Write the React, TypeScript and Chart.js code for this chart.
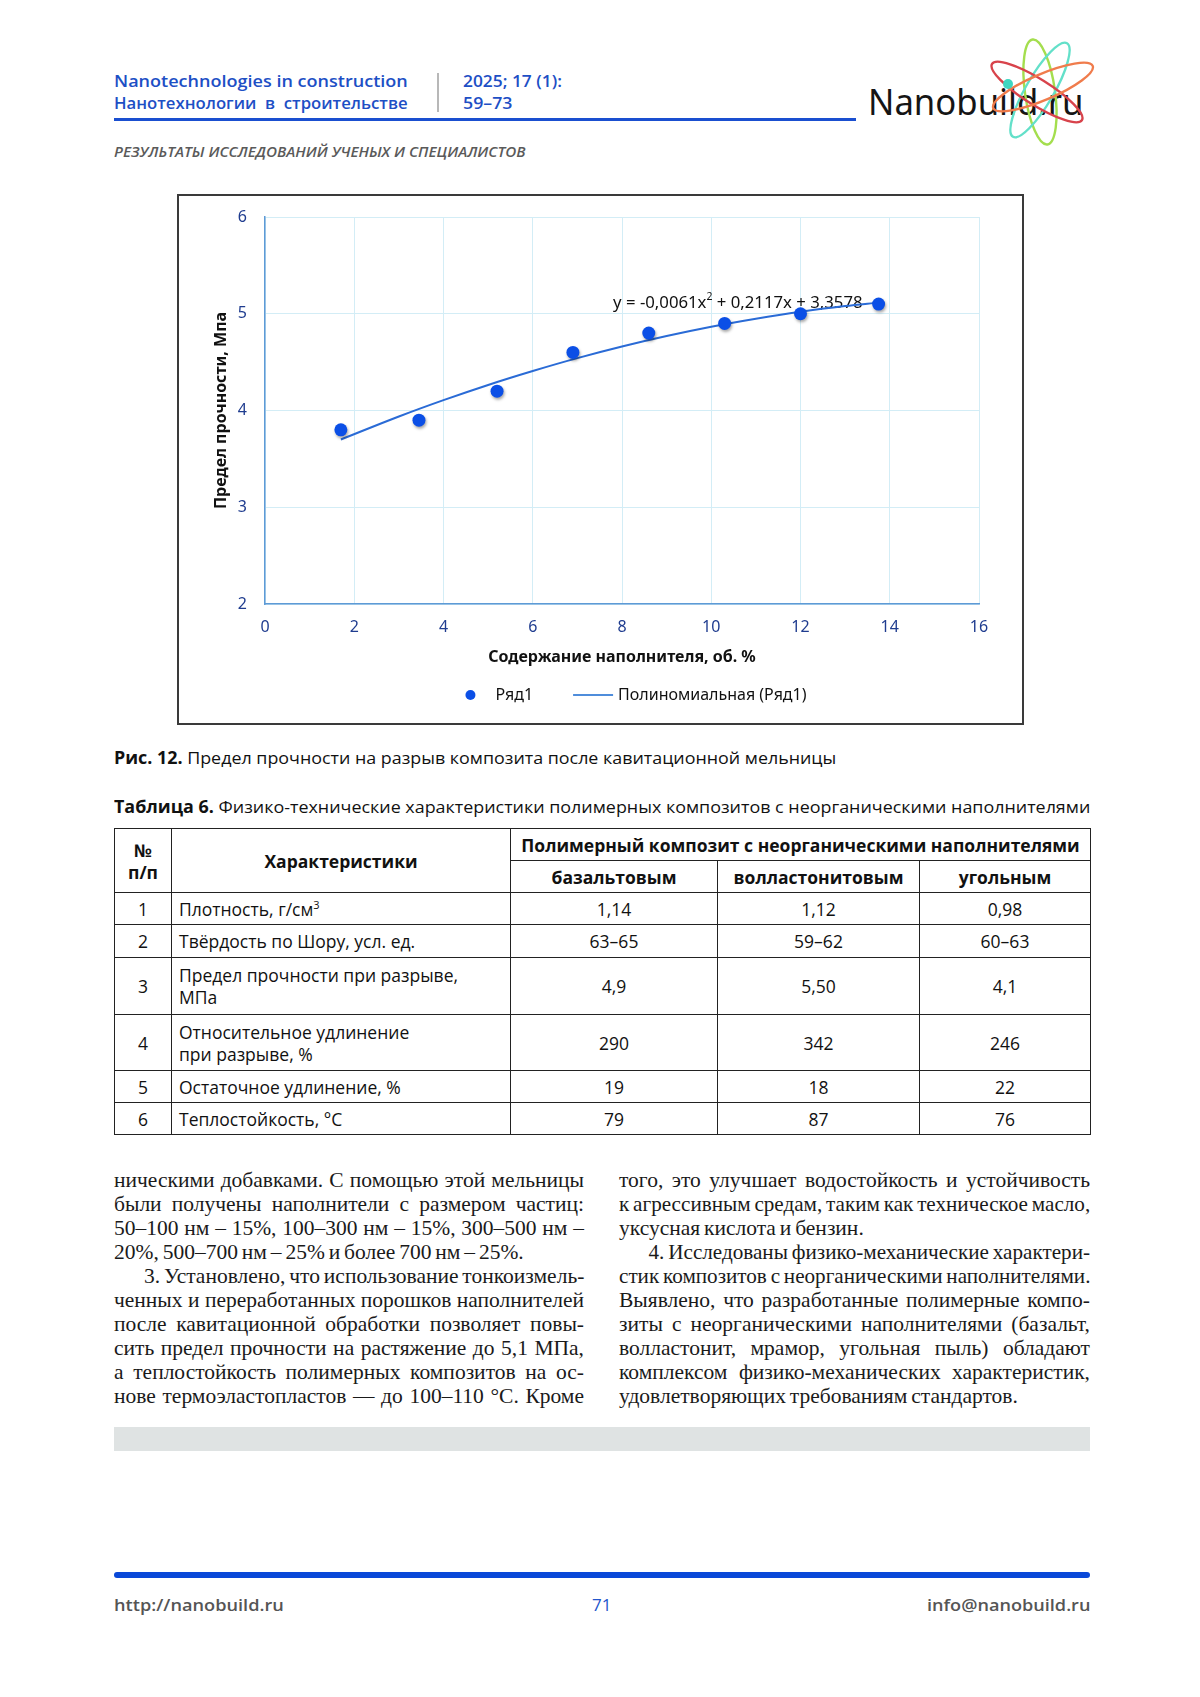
import React, { useEffect, useLayoutEffect, useRef } from "react";
import { Chart, registerables } from "chart.js";

Chart.register(...registerables);

// ---------- chart data ----------
const fillerContent = [1.7, 3.45, 5.2, 6.9, 8.6, 10.3, 12.0, 13.75];
const tensileStrength = [3.8, 3.9, 4.2, 4.6, 4.8, 4.9, 5.0, 5.1];
const trendX = [1.7, 3, 4, 5, 6, 7, 8, 9, 10, 11, 12, 13, 13.75];
const trendY = [3.7, 3.938, 4.107, 4.264, 4.408, 4.541, 4.661, 4.769, 4.865, 4.948, 5.02, 5.079, 5.115];
const xRange = [0, 16, 2];
const yRange = [2, 6, 1];
const seriesName = "Ряд1";
const trendName = "Полиномиальная (Ряд1)";
const xTitle = "Содержание наполнителя, об. %";
const yTitle = "Предел прочности, Мпа";
const equationParts = ["y = -0,0061x", "2", " + 0,2117x + 3,3578"];
const equationAnchor = [7.8, 13.39, 5.11];

// ---------- table data ----------
const tableNums = ["1", "2", "3", "4", "5", "6"];
const tableProps = [
  ["Плотность, г/см", "3"],
  ["Твёрдость по Шору, усл. ед."],
  ["Предел прочности при разрыве,", "МПа"],
  ["Относительное удлинение", "при разрыве, %"],
  ["Остаточное удлинение, %"],
  ["Теплостойкость, °С"],
];
const basaltVals = ["1,14", "63–65", "4,9", "290", "19", "79"];
const wollastVals = ["1,12", "59–62", "5,50", "342", "18", "87"];
const coalVals = ["0,98", "60–63", "4,1", "246", "22", "76"];

// ---------- body text ----------
const leftLines: [string, number][] = [
  ["ническими добавками. С помощью этой мельницы", 1],
  ["были получены наполнители с размером частиц:", 1],
  ["50–100 нм – 15%, 100–300 нм – 15%, 300–500 нм –", 1],
  ["20%, 500–700 нм – 25% и более 700 нм – 25%.", 0],
  ["3. Установлено, что использование тонкоизмель-", 2],
  ["ченных и переработанных порошков наполнителей", 1],
  ["после кавитационной обработки позволяет повы-", 1],
  ["сить предел прочности на растяжение до 5,1 МПа,", 1],
  ["а теплостойкость полимерных композитов на ос-", 1],
  ["нове термоэластопластов — до 100–110 °C. Кроме", 1],
];
const rightLines: [string, number][] = [
  ["того, это улучшает водостойкость и устойчивость", 1],
  ["к агрессивным средам, таким как техническое масло,", 1],
  ["уксусная кислота и бензин.", 0],
  ["4. Исследованы физико-механические характери-", 2],
  ["стик композитов с неорганическими наполнителями.", 1],
  ["Выявлено, что разработанные полимерные компо-", 1],
  ["зиты с неорганическими наполнителями (базальт,", 1],
  ["волластонит, мрамор, угольная пыль) обладают", 1],
  ["комплексом физико-механических характеристик,", 1],
  ["удовлетворяющих требованиям стандартов.", 0],
];

const SANS = "'Open Sans', 'Noto Sans', sans-serif";
const CHART_FONT = "'Noto Sans', 'Open Sans', sans-serif";
const SERIF = "'Liberation Serif', 'DejaVu Serif', serif";

function Fit({ w, children, style }: { w: number; children: React.ReactNode; style?: React.CSSProperties }) {
  const ref = useRef<HTMLSpanElement>(null);
  useLayoutEffect(() => {
    const el = ref.current;
    if (!el) return;
    el.style.transform = "none";
    const r = el.offsetWidth;
    if (r > 0) el.style.transform = `scaleX(${w / r})`;
  });
  return (
    <span
      ref={ref}
      style={{ display: "inline-block", whiteSpace: "nowrap", transformOrigin: "0 50%", ...style }}
    >
      {children}
    </span>
  );
}

function Line({ left, cy, w, h = 22, style, children }: any) {
  return (
    <div style={{ position: "absolute", left, top: cy - h / 2, height: h, lineHeight: `${h}px`, ...style }}>
      <Fit w={w}>{children}</Fit>
    </div>
  );
}

const shadowPlugin = {
  id: "pointShadow",
  beforeDatasetDraw(chart: any, args: any) {
    if (args.index === 0) {
      const c = chart.ctx;
      c.save();
      c.shadowColor = "rgba(0,0,0,0.35)";
      c.shadowBlur = 3;
      c.shadowOffsetX = 1;
      c.shadowOffsetY = 2;
    }
  },
  afterDatasetDraw(chart: any, args: any) {
    if (args.index === 0) chart.ctx.restore();
  },
};

const equationPlugin = {
  id: "equation",
  beforeDatasetsDraw(chart: any) {
    const c = chart.ctx;
    const xs = chart.scales.x;
    const ys = chart.scales.y;
    const left = xs.getPixelForValue(equationAnchor[0]);
    const right = xs.getPixelForValue(equationAnchor[1]);
    const y = ys.getPixelForValue(equationAnchor[2]);
    const big = `16px ${CHART_FONT}`;
    const small = `10px ${CHART_FONT}`;
    c.save();
    c.font = big;
    const w1 = c.measureText(equationParts[0]).width;
    const w3 = c.measureText(equationParts[2]).width;
    c.font = small;
    const w2 = c.measureText(equationParts[1]).width;
    const total = w1 + w2 + w3;
    c.translate(left, y);
    c.scale((right - left) / total, 1);
    c.fillStyle = "#111";
    c.textBaseline = "middle";
    c.font = big;
    c.fillText(equationParts[0], 0, 0);
    c.font = small;
    c.fillText(equationParts[1], w1, -6);
    c.font = big;
    c.fillText(equationParts[2], w1 + w2, 0);
    c.restore();
  },
};

const legendPlugin = {
  id: "customLegend",
  afterDraw(chart: any) {
    const c = chart.ctx;
    const ds = chart.data.datasets;
    const ca = chart.chartArea;
    const y = ca.bottom + 91;
    c.save();
    c.font = `16px ${CHART_FONT}`;
    const t1 = c.measureText(ds[0].label).width;
    const t2 = c.measureText(ds[1].label).width;
    const total = 10 + 20 + t1 + 40 + 40 + 5 + t2;
    let x = (ca.left + ca.right) / 2 + 14 - total / 2;
    c.fillStyle = ds[0].backgroundColor;
    c.beginPath();
    c.arc(x + 5, y, 5, 0, Math.PI * 2);
    c.fill();
    x += 30;
    c.fillStyle = "#111";
    c.textBaseline = "middle";
    c.fillText(ds[0].label, x, y);
    x += t1 + 40;
    c.strokeStyle = "#4f8ddb";
    c.lineWidth = 2;
    c.beginPath();
    c.moveTo(x, y);
    c.lineTo(x + 40, y);
    c.stroke();
    x += 45;
    c.fillText(ds[1].label, x, y);
    c.restore();
  },
};

function StrengthChart() {
  const ref = useRef<HTMLCanvasElement>(null);
  useEffect(() => {
    const canvas = ref.current;
    if (!canvas) return;
    const tickFont = { family: CHART_FONT, size: 16 };
    const chart = new Chart(canvas, {
      type: "scatter",
      data: {
        datasets: [
          {
            type: "scatter",
            label: seriesName,
            data: fillerContent.map((x, i) => ({ x, y: tensileStrength[i] })),
            backgroundColor: "#0b4fe6",
            borderColor: "#0b4fe6",
            borderWidth: 0,
            pointRadius: 6.5,
            pointHoverRadius: 6.5,
            order: 0,
          },
          {
            type: "line",
            label: trendName,
            data: trendX.map((x, i) => ({ x, y: trendY[i] })),
            borderColor: "#2a6bd6",
            borderWidth: 2,
            pointRadius: 0,
            tension: 0.4,
            cubicInterpolationMode: "monotone",
            fill: false,
            order: 1,
          },
        ],
      } as any,
      options: {
        animation: false,
        responsive: false,
        maintainAspectRatio: false,
        layout: { padding: { left: 0, right: 43, top: 21, bottom: 49 } },
        plugins: { legend: { display: false }, tooltip: { enabled: false } },
        scales: {
          x: {
            type: "linear",
            min: xRange[0],
            max: xRange[1],
            ticks: { stepSize: xRange[2], color: "#1f3c8f", font: tickFont, padding: 14 },
            grid: { color: "#d3edf6", lineWidth: 1, tickLength: 0 },
            border: { color: "#5e9ad6", width: 1.5 },
            title: {
              display: true,
              text: xTitle,
              color: "#111",
              font: { family: CHART_FONT, size: 16, weight: "bold" },
              padding: { top: 0, bottom: 7 },
            },
            afterFit: (s: any) => {
              s.height = 70;
              s.paddingLeft = 0;
              s.paddingRight = 0;
            },
          },
          y: {
            type: "linear",
            min: yRange[0],
            max: yRange[1],
            ticks: { stepSize: yRange[2], color: "#1f3c8f", font: tickFont, padding: 18 },
            grid: { color: "#d3edf6", lineWidth: 1, tickLength: 0 },
            border: { color: "#5e9ad6", width: 1.5 },
            title: {
              display: true,
              text: yTitle,
              color: "#111",
              font: { family: CHART_FONT, size: 16, weight: "bold" },
              padding: { top: 33, bottom: 0 },
            },
            afterFit: (s: any) => {
              s.width = 86;
              s.paddingTop = 0;
              s.paddingBottom = 0;
            },
          },
        },
      } as any,
      plugins: [shadowPlugin, equationPlugin, legendPlugin],
    });
    return () => chart.destroy();
  }, []);
  return <canvas ref={ref} width={843} height={527} style={{ width: 843, height: 527, display: "block" }} />;
}

function Atom() {
  return (
    <svg
      width={140}
      height={130}
      viewBox="975 25 140 130"
      style={{ position: "absolute", left: 975, top: 25 }}
    >
      <g fill="none" strokeWidth={2.4}>
        <ellipse cx={1040} cy={92} rx={15} ry={53} transform="rotate(-8 1040 92)" stroke="#a4de4e" />
        <ellipse cx={1040} cy={90} rx={14} ry={54} transform="rotate(30 1040 90)" stroke="#63e0c9" />
        <ellipse cx={1037} cy={92} rx={53} ry={13} transform="rotate(32 1037 92)" stroke="#d8434b" />
        <ellipse cx={1043} cy={87} rx={54} ry={13} transform="rotate(-23 1043 87)" stroke="#f07c4c" />
      </g>
      <circle cx={1008} cy={84} r={5} fill="#3fd6c0" />
    </svg>
  );
}

const cellBase: React.CSSProperties = {
  border: "1.5px solid #222",
  padding: "0 7px",
  verticalAlign: "middle",
  fontSize: 17.5,
  lineHeight: "22px",
  color: "#111",
  overflow: "hidden",
  whiteSpace: "nowrap",
};

function DataTable() {
  const hdr: React.CSSProperties = { ...cellBase, fontWeight: 700, textAlign: "center" };
  const num: React.CSSProperties = { ...cellBase, textAlign: "center" };
  const rowH = [32, 33, 57, 56, 32, 32];
  return (
    <table
      style={{
        position: "absolute",
        left: 114,
        top: 828,
        width: 976,
        borderCollapse: "collapse",
        tableLayout: "fixed",
        fontFamily: SANS,
      }}
    >
      <colgroup>
        <col style={{ width: 57 }} />
        <col style={{ width: 339 }} />
        <col style={{ width: 207 }} />
        <col style={{ width: 202 }} />
        <col style={{ width: 171 }} />
      </colgroup>
      <tbody>
        <tr style={{ height: 32 }}>
          <td rowSpan={2} style={hdr}>
            №
            <br />
            п/п
          </td>
          <td rowSpan={2} style={hdr}>
            Характеристики
          </td>
          <td colSpan={3} style={{ ...hdr, padding: 0 }}>
            Полимерный композит с неорганическими наполнителями
          </td>
        </tr>
        <tr style={{ height: 32 }}>
          <td style={hdr}>базальтовым</td>
          <td style={hdr}>волластонитовым</td>
          <td style={hdr}>угольным</td>
        </tr>
        {tableNums.map((n, i) => {
          const p = tableProps[i];
          let propNode: React.ReactNode;
          if (i === 0) {
            propNode = (
              <>
                {p[0]}
                <sup style={{ fontSize: 11, lineHeight: 0 }}>{p[1]}</sup>
              </>
            );
          } else if (p.length === 2) {
            propNode = (
              <>
                {p[0]}
                <br />
                {p[1]}
              </>
            );
          } else {
            propNode = p[0];
          }
          return (
            <tr key={n} style={{ height: rowH[i] }}>
              <td style={num}>{n}</td>
              <td style={{ ...cellBase, textAlign: "left" }}>{propNode}</td>
              <td style={num}>{basaltVals[i]}</td>
              <td style={num}>{wollastVals[i]}</td>
              <td style={num}>{coalVals[i]}</td>
            </tr>
          );
        })}
      </tbody>
    </table>
  );
}

function JLine({ text, width, mode }: { text: string; width: number; mode: number }) {
  const outer = useRef<HTMLDivElement>(null);
  const probe = useRef<HTMLSpanElement>(null);
  const indent = mode === 2 ? 30 : 0;
  useLayoutEffect(() => {
    const o = outer.current;
    const p = probe.current;
    if (!o || !p) return;
    const nat = p.offsetWidth + indent;
    if (nat > width) {
      o.style.width = `${nat}px`;
      o.style.transform = `scaleX(${width / nat})`;
    } else {
      o.style.width = `${width}px`;
      o.style.transform = "none";
    }
  });
  const justify = mode !== 0;
  return (
    <div style={{ position: "relative", height: 24 }}>
      <span ref={probe} style={{ position: "absolute", visibility: "hidden", whiteSpace: "nowrap", left: 0, top: 0 }}>
        {text}
      </span>
      <div
        ref={outer}
        style={{
          width,
          height: 24,
          lineHeight: "24px",
          whiteSpace: "nowrap",
          textAlign: justify ? "justify" : "left",
          textAlignLast: justify ? "justify" : "left",
          paddingLeft: indent,
          boxSizing: "border-box",
          transformOrigin: "0 50%",
        } as React.CSSProperties}
      >
        {text}
      </div>
    </div>
  );
}

function Column({ left, width, lines }: { left: number; width: number; lines: [string, number][] }) {
  return (
    <div
      style={{
        position: "absolute",
        left,
        top: 1168,
        width,
        fontFamily: SERIF,
        fontSize: 21.5,
        wordSpacing: "-1.5px",
        color: "#1a1a1a",
      }}
    >
      {lines.map(([t, mode], i) => (
        <JLine key={i} text={t} width={width} mode={mode} />
      ))}
    </div>
  );
}

export default function App() {
  const blue = "#1d4fc5";
  return (
    <div style={{ position: "relative", width: 1200, height: 1697, background: "#fff", overflow: "hidden" }}>
      <style>{`body{margin:0;}`}</style>

      {/* header */}
      <Line left={114} cy={81} w={294} style={{ fontFamily: SANS, fontSize: 17, fontWeight: 600, color: blue }}>
        Nanotechnologies in construction
      </Line>
      <Line left={114} cy={103} w={294} style={{ fontFamily: SANS, fontSize: 17, fontWeight: 600, color: blue }}>
        Нанотехнологии&nbsp; в&nbsp; строительстве
      </Line>
      <div style={{ position: "absolute", left: 437, top: 73, width: 1.5, height: 39, background: "#b8b8b8" }} />
      <Line left={463} cy={81} w={99} style={{ fontFamily: SANS, fontSize: 17, fontWeight: 600, color: blue }}>
        2025; 17 (1):
      </Line>
      <Line left={463} cy={103} w={49} style={{ fontFamily: SANS, fontSize: 17, fontWeight: 600, color: blue }}>
        59–73
      </Line>
      <div style={{ position: "absolute", left: 114, top: 117.5, width: 742, height: 3.5, background: "#1a4fd0" }} />

      <div style={{ position: "absolute", left: 868, top: 84, height: 36, lineHeight: "36px", fontFamily: "'Noto Sans', sans-serif", fontSize: 36, color: "#151515" }}>
        <Fit w={215}>Nanobuild.ru</Fit>
      </div>
      <Atom />

      <Line left={114} cy={151} w={412} style={{ fontFamily: SANS, fontSize: 15, fontWeight: 600, fontStyle: "italic", color: "#5a5a5a" }}>
        РЕЗУЛЬТАТЫ ИССЛЕДОВАНИЙ УЧЕНЫХ И СПЕЦИАЛИСТОВ
      </Line>

      {/* chart box */}
      <div
        style={{
          position: "absolute",
          left: 177,
          top: 194,
          width: 847,
          height: 531,
          border: "2px solid #3a3a3a",
          boxSizing: "border-box",
          background: "#fff",
        }}
      >
        <StrengthChart />
      </div>

      {/* captions */}
      <Line left={114} cy={758} w={722} style={{ fontFamily: SANS, fontSize: 17, color: "#111" }}>
        <b>Рис. 12.</b> Предел прочности на разрыв композита после кавитационной мельницы
      </Line>
      <Line left={114} cy={807} w={976} style={{ fontFamily: SANS, fontSize: 17, color: "#111" }}>
        <b>Таблица 6.</b> Физико-технические характеристики полимерных композитов с неорганическими наполнителями
      </Line>

      <DataTable />

      <Column left={114} width={470} lines={leftLines} />
      <Column left={619} width={471} lines={rightLines} />

      <div style={{ position: "absolute", left: 114, top: 1427, width: 976, height: 24, background: "#dfe3e3" }} />

      {/* footer */}
      <div style={{ position: "absolute", left: 114, top: 1572, width: 976, height: 6, borderRadius: 3, background: "#0a48d8" }} />
      <Line left={114} cy={1605} w={170} style={{ fontFamily: SANS, fontSize: 17, fontWeight: 600, color: "#555" }}>
        http://nanobuild.ru
      </Line>
      <Line left={592} cy={1605} w={19} style={{ fontFamily: SANS, fontSize: 17, color: "#2356cc" }}>
        71
      </Line>
      <Line left={927} cy={1605} w={163} style={{ fontFamily: SANS, fontSize: 17, fontWeight: 600, color: "#555" }}>
        info@nanobuild.ru
      </Line>
    </div>
  );
}
